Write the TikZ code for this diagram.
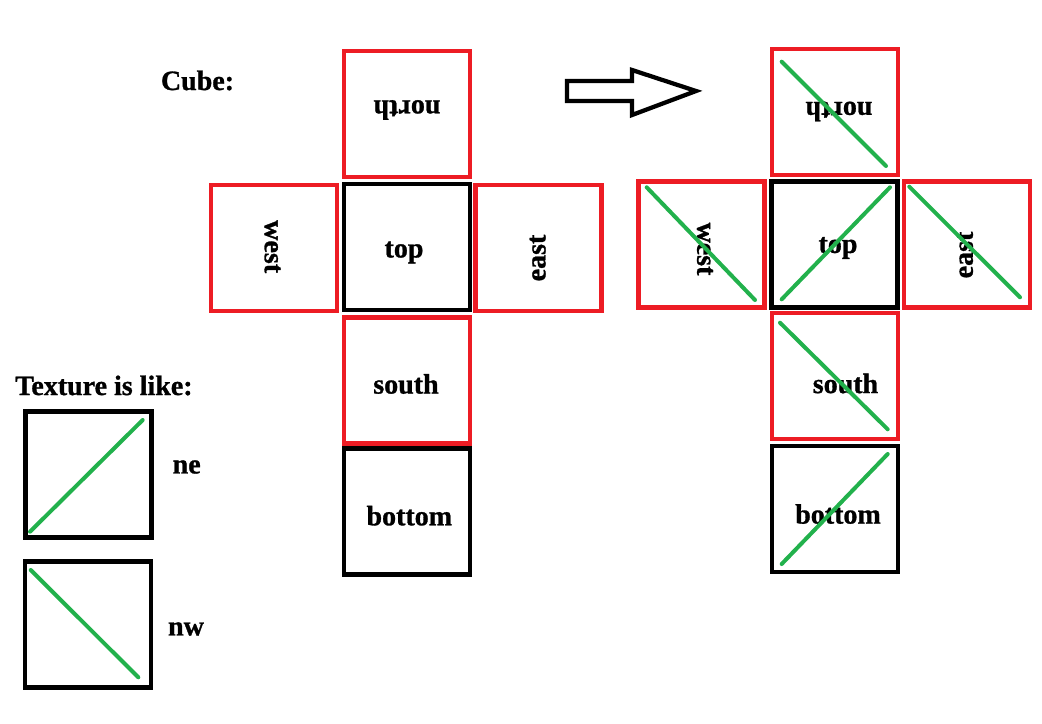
\documentclass[tikz,border=0pt]{standalone}
\usepackage{fontspec}
\setmainfont{Liberation Serif}[BoldFeatures={FakeBold=1}]
\usetikzlibrary{calc}
\definecolor{pred}{HTML}{ED1C24}
\definecolor{pgreen}{HTML}{22B14C}
\tikzset{
  face/.style={draw=#1, line width=3.4pt, minimum size=94.5pt, inner sep=0pt, shape=rectangle},
  lbl/.style={font=\fontsize{21}{25}\selectfont\bfseries, inner sep=0pt},
  tex/.style={draw=pgreen, line width=3pt, line cap=round},
  bigarrow/.style={draw=black, line width=3.2pt, line join=miter},
}
\begin{document}
\begin{tikzpicture}[x=0.75pt,y=-0.75pt]
\useasboundingbox (0,0) rectangle (1042,724);
% ---------- left cube ----------
\node[face=pred] (lN) at (407,114) {};
\node[face=pred] (lW) at (274,248) {};
\node[face=pred] (lE) at (538.5,248) {};
\node[face=pred] (lS) at (407,380.5) {};
\node[face=black] (lT) at (407,247) {};
\node[face=black] (lB) at (407,511.5) {};
\node[lbl, rotate=180] (tlN) at (407,110) {north};
\node[lbl] (tlT) at (404,252.5) {top};
\node[lbl, rotate=-90] (tlW) at (272.5,246.7) {west};
\node[lbl, rotate=90] (tlE) at (537.7,258) {east};
\node[lbl] (tlS) at (406,384) {south};
\node[lbl] (tlB) at (409.3,515.7) {bottom};
\node[lbl, anchor=base west] (cube) at (160.7,90) {Cube:};
% ---------- arrow ----------
\draw[bigarrow] (567,81) -- (632,81) -- (632,70) -- (696,91) -- (632,115) -- (632,101) -- (567,101) -- cycle;
% ---------- right cube ----------
\node[face=pred] (rN) at (835,112) {};
\node[face=pred] (rW) at (701.5,244.5) {};
\node[face=pred] (rE) at (967,244.5) {};
\node[face=pred] (rS) at (835,376) {};
\node[face=black] (rT) at (834.5,244.5) {};
\node[face=black] (rB) at (835,509) {};
\node[lbl, rotate=180] (trN) at (839,111.5) {north};
\node[lbl] (trT) at (838,248) {top};
\node[lbl, rotate=-90] (trW) at (705,249) {west};
\node[lbl, rotate=90] (trE) at (965,255) {east};
\node[lbl] (trS) at (845.5,383.5) {south};
\node[lbl] (trB) at (838,514) {bottom};
\draw[tex] (781.7,61.7) -- (886,166);
\draw[tex] (646.7,187.3) -- (755,300);
\draw[tex] (781.7,299.3) -- (890,187.3);
\draw[tex] (909.3,186.7) -- (1020,297.3);
\draw[tex] (780,322.7) -- (887.7,429.3);
\draw[tex] (781.7,564) -- (887.7,454);
% ---------- legend ----------
\node[lbl, anchor=base west] (texture) at (15,395) {Texture is like:};
\node[face=black] (lgNE) at (88.5,474.5) {};
\node[face=black] (lgNW) at (88,624.7) {};
\draw[tex] (30,531.7) -- (142.7,420);
\draw[tex] (30.7,570) -- (138.3,677.3);
\node[lbl] (ne) at (186.7,467) {ne};
\node[lbl] (nw) at (186,629) {nw};
\end{tikzpicture}
\end{document}
